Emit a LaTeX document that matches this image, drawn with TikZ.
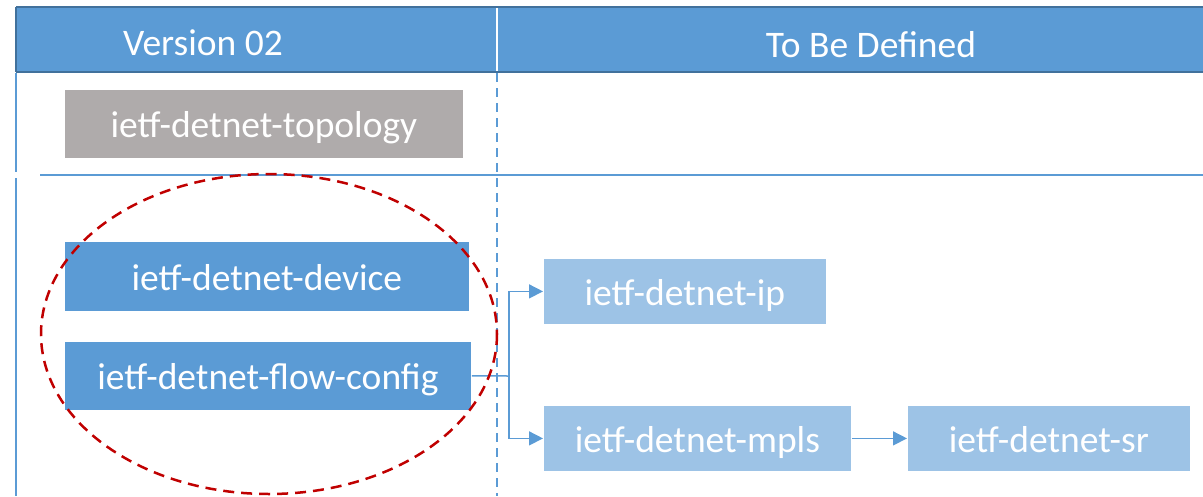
\documentclass[tikz,border=0pt]{standalone}
\usepackage{fontspec}
\setmainfont{Carlito}
\usetikzlibrary{arrows.meta}
\definecolor{hdrblue}{HTML}{5B9BD5}
\definecolor{hdredge}{HTML}{41719C}
\definecolor{lightbox}{HTML}{9DC3E6}
\definecolor{graybox}{HTML}{AFABAB}
\definecolor{ringred}{HTML}{C00000}
\tikzset{
  txt/.style={font=\fontsize{37.5}{40}\selectfont, text=white},
  module/.style={txt, draw=white, line width=0.8pt, inner sep=0pt, anchor=north west,
                 text height=32pt, text depth=4pt},
  rule/.style={draw=hdrblue, line width=1.5pt},
  link/.style={draw=hdrblue, line width=1.5pt, -{Triangle[length=14pt,width=14pt]}},
}
\begin{document}
\begin{tikzpicture}[x=1pt,y=-1pt]
\useasboundingbox (0,0) rectangle (1203,496);
% header band
\fill[hdrblue] (16,7) rectangle (1203,72);
\draw[hdredge, line width=2pt] (16,7) -- (1203,7) (16,72) -- (1203,72) (16,7) -- (16,72);
\draw[white, line width=2pt] (497,8) -- (497,71);
\node[txt] (h1) at (203,43) {Version 02};
\node[txt] (h2) at (871,45) {To Be Defined};
% table rules
\draw[rule] (16,73) -- (16,172);
\draw[rule] (16,178) -- (16,496);
\draw[rule] (40,175) -- (1203,175);
\draw[rule, dashed, dash pattern=on 9pt off 6pt] (497,73) -- (497,496);
% modules
\node[module, fill=graybox, minimum width=399pt, minimum height=69pt] (topo) at (64,89) {ietf-detnet-topology};
\node[module, fill=hdrblue, minimum width=405pt, minimum height=70pt] (dev) at (64,241) {ietf-detnet-device};
\node[module, fill=hdrblue, minimum width=407pt, minimum height=69pt] (flow) at (64,341) {ietf-detnet-flow-config};
\node[module, fill=lightbox, minimum width=283pt, minimum height=66pt] (ip) at (543,258) {ietf-detnet-ip};
\node[module, fill=lightbox, minimum width=308pt, minimum height=66pt] (mpls) at (543,405) {ietf-detnet-mpls};
\node[module, fill=lightbox, minimum width=283pt, minimum height=66pt] (sr) at (907,405) {ietf-detnet-sr};
% connectors
\coordinate (fork) at (509,376);
\draw[hdrblue, line width=1.5pt] (flow.east) -- (fork);
\draw[link] (fork) |- (ip.west);
\draw[link] (fork) |- (mpls.west);
\draw[link] (mpls.east) -- (sr.west);
% group ring
\draw[ringred, line width=2.5pt, dash pattern=on 11pt off 7pt] (269,334) ellipse [x radius=228, y radius=160];
\end{tikzpicture}
\end{document}
